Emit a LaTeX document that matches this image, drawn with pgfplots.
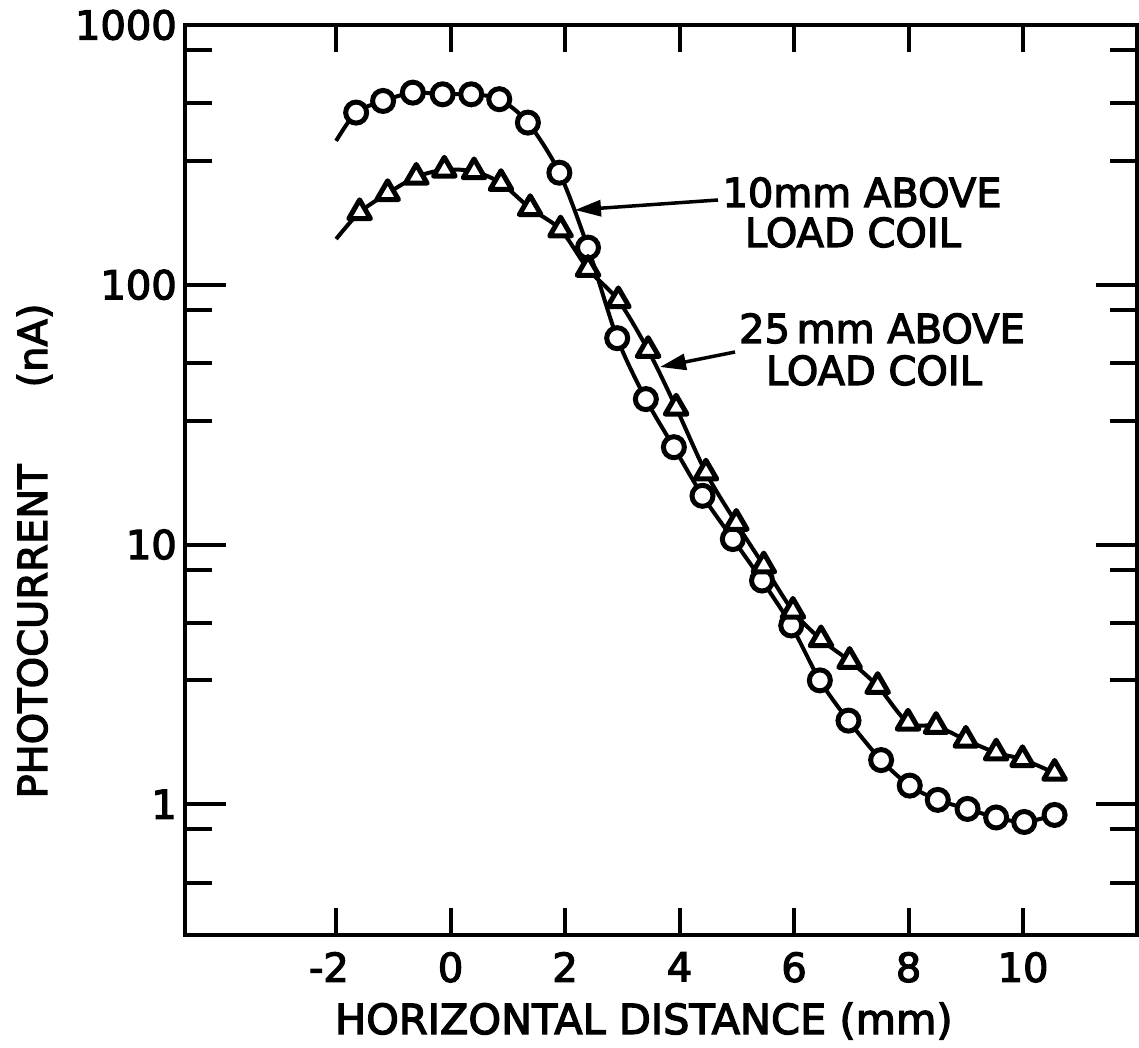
\documentclass[border=0pt]{standalone}
\usepackage{fontspec}
\setmainfont{DejaVu Sans}[FakeBold=3]
\usepackage{pgfplots}
\pgfplotsset{compat=1.18}
\usetikzlibrary{arrows.meta,calc}
\begin{document}
\begin{tikzpicture}
\useasboundingbox (-185pt,-112pt) rectangle (954pt,935pt);
\begin{axis}[
  at={(0pt,0pt)}, anchor=south west,
  scale only axis, width=952pt, height=910pt,
  xmin=-4.64, xmax=11.99,
  ymode=log, ymin=0.314, ymax=1000,
  axis line style={line width=4.5pt},
  tick align=inside,
  major tick length=27pt, minor tick length=27pt,
  every tick/.style={black, line width=4pt},
  xtick={-2,0,2,4,6,8,10},
  xticklabels={\llap{-}2,0,2,4,6,8,10},
  ytick={1,10,100,1000},
  yticklabels={1,10,100,1000},
  minor ytick={0.5,0.8,3,5,8,30,50,80,300,500,800},
  extra y ticks={1,10,100},
  extra y tick labels={},
  extra y tick style={major tick length=41pt},
  tick label style={font=\fontsize{40}{48}\selectfont, inner sep=0pt},
  xticklabel style={yshift=-17pt},
  yticklabel style={xshift=-8pt},
  xlabel={HORIZONTAL DISTANCE (mm)},
  xlabel style={at={(axis description cs:0.482,0)}, anchor=base, yshift=-99pt, inner sep=0pt, font=\fontsize{41.5}{48}\selectfont},
  ylabel={PHOTOCURRENT\hspace{77pt}(nA)},
  ylabel style={at={($(axis description cs:0,0.422)+(-138pt,0pt)$)}, anchor=base, inner sep=0pt, font=\fontsize{40}{48}\selectfont},
]
% 10 mm above load coil (circles)
\addplot[line width=4pt, smooth, no marks] coordinates {
(-2.0,358) (-1.65,460) (-1.18,510) (-0.66,549) (-0.14,541) (0.36,541) (0.85,518)
(1.35,421) (1.90,270) (2.40,139) (2.91,62.3) (3.41,36.3) (3.90,23.7) (4.40,15.4)
(4.93,10.5) (5.44,7.27) (5.95,4.88) (6.45,3.0) (6.95,2.10) (7.52,1.48) (8.02,1.18)
(8.51,1.04) (9.03,0.96) (9.53,0.89) (10.02,0.855) (10.55,0.91)};
% 25 mm above load coil (triangles)
\addplot[line width=4pt, smooth, no marks] coordinates {
(-2.0,150) (-1.59,190) (-1.10,225) (-0.60,260) (-0.11,277) (0.41,273) (0.88,246)
(1.39,197) (1.92,163) (2.40,115) (2.93,87) (3.45,56) (3.94,33.6) (4.46,18.9)
(4.99,12.1) (5.47,8.3) (5.98,5.55) (6.47,4.31) (6.97,3.56) (7.46,2.85) (7.99,2.06)
(8.48,2.0) (9.0,1.77) (9.53,1.58) (9.99,1.49) (10.55,1.32)};
\addplot[only marks, mark=*, mark size=10.5pt, mark options={fill=white, draw=black, line width=5pt}] coordinates {
(-1.65,460) (-1.18,510) (-0.66,549) (-0.14,541) (0.36,541) (0.85,518)
(1.35,421) (1.90,270) (2.40,139) (2.91,62.3) (3.41,36.3) (3.90,23.7) (4.40,15.4)
(4.93,10.5) (5.44,7.27) (5.95,4.88) (6.45,3.0) (6.95,2.10) (7.52,1.48) (8.02,1.18)
(8.51,1.04) (9.03,0.96) (9.53,0.89) (10.02,0.855) (10.55,0.91)};
\addplot[only marks, mark=triangle*, mark size=12.5pt, mark options={fill=white, draw=black, line width=5pt, line join=round}] coordinates {
(-1.59,190) (-1.10,225) (-0.60,260) (-0.11,277) (0.41,273) (0.88,246)
(1.39,197) (1.92,163) (2.40,115) (2.93,87) (3.45,56) (3.94,33.6) (4.46,18.9)
(4.99,12.1) (5.47,8.3) (5.98,5.55) (6.47,4.31) (6.97,3.56) (7.46,2.85) (7.99,2.06)
(8.48,2.0) (9.0,1.77) (9.53,1.58) (9.99,1.49) (10.55,1.32)};
\end{axis}
\begin{scope}[every node/.style={anchor=base, inner sep=0pt, font=\fontsize{40}{48}\selectfont}]
\node at (677pt,728pt) {10mm ABOVE};
\node at (668pt,688pt) {LOAD COIL};
\node at (697pt,592pt) {25\,mm ABOVE};
\node at (689pt,550pt) {LOAD COIL};
\end{scope}
\draw[line width=3.5pt, -{Triangle[length=26pt,width=16pt]}] (533pt,735pt) -- (390pt,725pt);
\draw[line width=3.5pt, -{Triangle[length=26pt,width=16pt]}] (550pt,583pt) -- (475pt,568pt);
\end{tikzpicture}
\end{document}
